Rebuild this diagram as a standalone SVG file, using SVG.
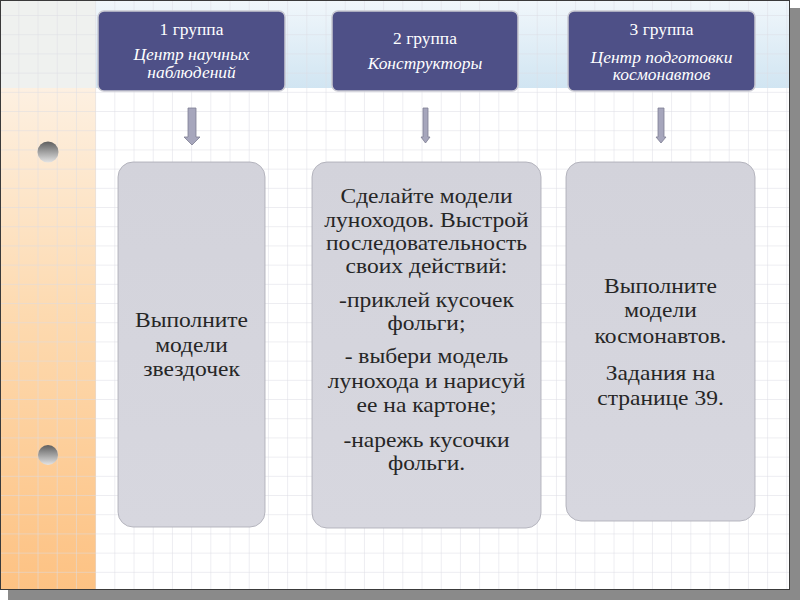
<svg xmlns="http://www.w3.org/2000/svg" width="800" height="600" viewBox="0 0 800 600">
<style>
.hdr{fill:#4e5087;stroke:#c9c9d2;stroke-width:1.5}
.ht{font-family:"Liberation Serif",serif;font-size:16px;fill:#ffffff;text-anchor:middle}
.hi{font-style:italic}
.box{fill:url(#boxg);stroke:#a8a8b2;stroke-width:0.8}
.bt{font-family:"Liberation Serif",serif;font-size:21px;fill:#262626;text-anchor:middle}
.arr{fill:#a6a6bc;stroke:#7d7d92;stroke-width:0.8}
</style>
<defs>
<pattern id="grid" patternUnits="userSpaceOnUse" x="0.1" y="16" width="19.2" height="19.2">
<path d="M19.2 0V19.2M0 19.2H19.2" fill="none" stroke="#dcdce4" stroke-width="1"/>
</pattern>
<linearGradient id="band" x1="0" y1="0" x2="0" y2="1">
<stop offset="0" stop-color="#f1f7fb"/>
<stop offset="1" stop-color="#d1e5f2"/>
</linearGradient>
<linearGradient id="orange" x1="0" y1="0" x2="0" y2="1">
<stop offset="0" stop-color="#fdf0e1"/>
<stop offset="0.45" stop-color="#fddab0"/>
<stop offset="1" stop-color="#fdc283"/>
</linearGradient>
<linearGradient id="boxg" x1="0" y1="0" x2="0" y2="1">
<stop offset="0" stop-color="#d3d3db"/>
<stop offset="1" stop-color="#d7d7df"/>
</linearGradient>
<linearGradient id="hole" x1="0" y1="0" x2="0" y2="1">
<stop offset="0" stop-color="#5e5e5e"/>
<stop offset="1" stop-color="#e4e4e4"/>
</linearGradient>
</defs>
<rect x="0" y="0" width="800" height="600" fill="#ffffff"/>
<rect x="8" y="8" width="792" height="592" fill="#8a8a8a"/>
<g id="slide">
<rect x="0" y="0" width="790" height="590" fill="#ffffff"/>
<rect x="96" y="0" width="694" height="88" fill="url(#band)"/>
<rect x="0" y="0" width="96" height="88" fill="#eff1ef"/>
<rect x="0" y="88" width="96" height="502" fill="url(#orange)"/>
<rect x="0" y="0" width="790" height="590" fill="url(#grid)"/>
<rect x="0.5" y="0.5" width="789" height="589" fill="none" stroke="#3a3a3a" stroke-width="1"/>
<circle cx="48" cy="152" r="10.5" fill="url(#hole)"/>
<circle cx="48" cy="455" r="10" fill="url(#hole)"/>
</g>
<g id="header1">
<rect class="hdr" x="98" y="11" width="187" height="80" rx="6"/>
<text class="ht" transform="translate(191.5 35) scale(1.09 1)">1 группа</text>
<text class="ht hi" transform="translate(191.5 60) scale(1.09 1)">Центр научных</text>
<text class="ht hi" transform="translate(191.5 78) scale(1.09 1)">наблюдений</text>
</g>
<g id="header2">
<rect class="hdr" x="332" y="11" width="186" height="80" rx="6"/>
<text class="ht" transform="translate(425 44) scale(1.09 1)">2 группа</text>
<text class="ht hi" transform="translate(425 69) scale(1.09 1)">Конструкторы</text>
</g>
<g id="header3">
<rect class="hdr" x="568" y="11" width="187" height="80" rx="6"/>
<text class="ht" transform="translate(661.5 35) scale(1.09 1)">3 группа</text>
<text class="ht hi" transform="translate(661.5 63) scale(1.09 1)">Центр подготовки</text>
<text class="ht hi" transform="translate(661.5 80) scale(1.09 1)">космонавтов</text>
</g>
<g id="connectors">
<polygon class="arr" points="188,108 196,108 196,137 200,137 192,145 184,137 188,137"/>
<polygon class="arr" points="423,108 428,108 428,137 430,137 425.5,143 421,137 423,137"/>
<polygon class="arr" points="658,108 664,108 664,137 666,137 661,143 656,137 658,137"/>
</g>
<g id="task1">
<rect class="box" x="118" y="162" width="147" height="365" rx="15"/>
<text class="bt" transform="translate(191.5 327) scale(1.12 1)">Выполните</text>
<text class="bt" transform="translate(191.5 352) scale(1.12 1)">модели</text>
<text class="bt" transform="translate(191.5 376) scale(1.12 1)">звездочек</text>
</g>
<g id="task2">
<rect class="box" x="312" y="162" width="229" height="366" rx="15"/>
<text class="bt" transform="translate(426.5 203) scale(1.12 1)">Сделайте модели</text>
<text class="bt" transform="translate(426.5 227) scale(1.12 1)">луноходов. Выстрой</text>
<text class="bt" transform="translate(426.5 250) scale(1.12 1)">последовательность</text>
<text class="bt" transform="translate(426.5 273) scale(1.12 1)">своих действий:</text>
<text class="bt" transform="translate(426.5 307) scale(1.12 1)">-приклей кусочек</text>
<text class="bt" transform="translate(426.5 330) scale(1.12 1)">фольги;</text>
<text class="bt" transform="translate(426.5 363) scale(1.12 1)">- выбери модель</text>
<text class="bt" transform="translate(426.5 388) scale(1.12 1)">лунохода и нарисуй</text>
<text class="bt" transform="translate(426.5 412) scale(1.12 1)">ее на картоне;</text>
<text class="bt" transform="translate(426.5 447) scale(1.12 1)">-нарежь кусочки</text>
<text class="bt" transform="translate(426.5 470) scale(1.12 1)">фольги.</text>
</g>
<g id="task3">
<rect class="box" x="566" y="162" width="189" height="359" rx="15"/>
<text class="bt" transform="translate(660.5 293) scale(1.12 1)">Выполните</text>
<text class="bt" transform="translate(660.5 317) scale(1.12 1)">модели</text>
<text class="bt" transform="translate(660.5 343) scale(1.12 1)">космонавтов.</text>
<text class="bt" transform="translate(660.5 380) scale(1.12 1)">Задания на</text>
<text class="bt" transform="translate(660.5 405) scale(1.12 1)">странице 39.</text>
</g>
</svg>
